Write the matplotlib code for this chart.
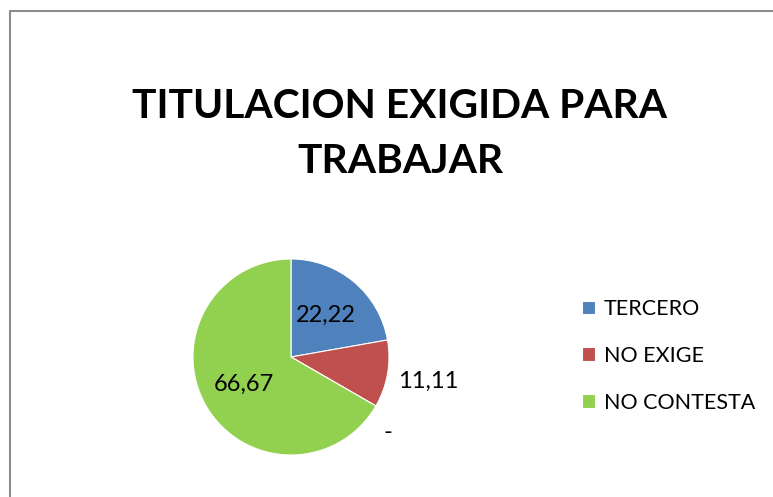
import matplotlib
matplotlib.use("Agg")
import matplotlib.pyplot as plt
from matplotlib.patches import Rectangle
import numpy as np

plt.rcParams["font.family"] = ["Lato", "DejaVu Sans"]

# data
categories = ["TERCERO", "NO EXIGE", "", "NO CONTESTA"]
values = [22.22, 11.11, 0.0, 66.67]
value_labels = ["22,22", "11,11", "-", "66,67"]
colors = ["#4F81BD", "#C0504D", "#8064A2", "#92D050"]
title = "TITULACION EXIGIDA PARA\nTRABAJAR"

W, H = 773, 497
fig = plt.figure(figsize=(W / 100, H / 100), dpi=100)

# gray chart frame, running off the right and bottom edges
fig.add_artist(Rectangle((9.5 / W, -0.2), 1.2, 1.2 - 10.5 / H,
                         transform=fig.transFigure, fill=False,
                         edgecolor="#8C8C8C", linewidth=1.5))

fig.text(400 / W, 1 - 134 / H, title, ha="center", va="center",
         fontsize=29.3, fontweight="bold", linespacing=1.62)

cx, cy, r = 291, 357, 98
ax = fig.add_axes([(cx - r) / W, (H - cy - r) / H, 2 * r / W, 2 * r / H])
wedges, _ = ax.pie(values, colors=colors, startangle=90, counterclock=False,
                   radius=1, wedgeprops=dict(linewidth=0.8, edgecolor="white"))
ax.set_xlim(-1, 1)
ax.set_ylim(-1, 1)

# label positions: inside for big slices, outside for small ones
for w, lab, v in zip(wedges, value_labels, values):
    ang = np.deg2rad((w.theta1 + w.theta2) / 2)
    if v > 15:
        d = 0.55
    elif v > 0:
        d = 1.42
    else:
        d = 1.25
        ang = ang - np.deg2rad(8)
    ax.text(d * np.cos(ang), d * np.sin(ang), lab, ha="center", va="center",
            fontsize=17, color="black")

legend_idx = [0, 1, 3]
fig.legend([wedges[i] for i in legend_idx], [categories[i] for i in legend_idx],
           loc="center left", bbox_to_anchor=(573 / W, 1 - 356 / H),
           frameon=False, fontsize=15.5, labelspacing=1.25, handlelength=0.62,
           handleheight=0.62, handletextpad=0.4, borderaxespad=0)

fig.savefig("out.png", dpi=100)
